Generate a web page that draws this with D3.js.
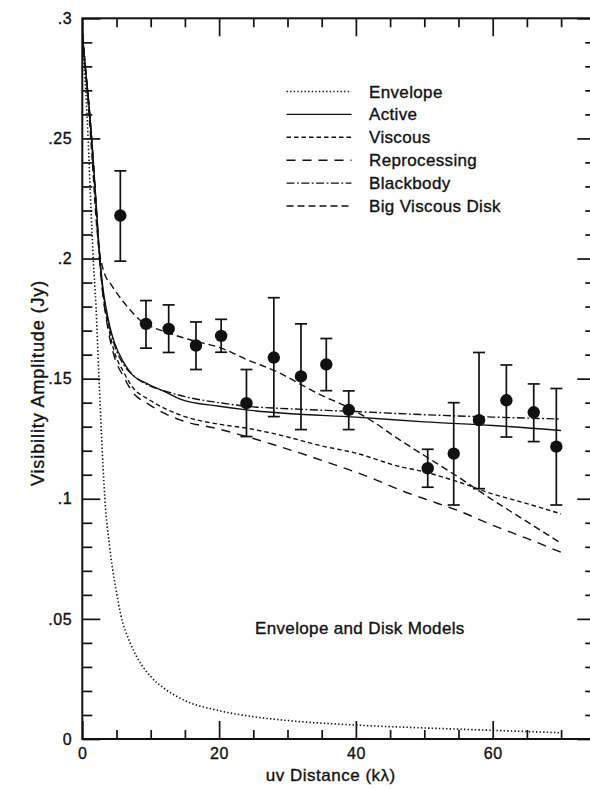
<!DOCTYPE html>
<html>
<head>
<meta charset="utf-8">
<script src="https://cdn.jsdelivr.net/npm/d3@7"></script>
<style>
  html, body { margin: 0; padding: 0; background: #fff; }
  svg { display: block; }
  text { font-family: "Liberation Sans", Arial, Helvetica, sans-serif; fill: #111; stroke: #111; stroke-width: 0.35px; }
</style>
</head>
<body>
<svg id="chart" width="590" height="790"></svg>
<script>
// ---------------- data ----------------
const xTicksMajor = [0, 20, 40, 60];
const xTicksMinor = [5, 10, 15, 25, 30, 35, 45, 50, 55, 65, 70, 75];
const yTicksMajor = [0, 0.05, 0.1, 0.15, 0.2, 0.25, 0.3];
const yTicksMinor = [0.01, 0.02, 0.03, 0.04, 0.06, 0.07, 0.08, 0.09, 0.11, 0.12, 0.13, 0.14,
                     0.16, 0.17, 0.18, 0.19, 0.21, 0.22, 0.23, 0.24, 0.26, 0.27, 0.28, 0.29];

const obsU     = [5.56, 9.31, 12.63, 16.62, 20.3, 24.0, 28.0, 31.97, 35.67, 38.95, 50.5, 54.3, 58.0, 62.0, 66.0, 69.3];
const obsAmp   = [0.2179, 0.1728, 0.1707, 0.1638, 0.1678, 0.1398, 0.1588, 0.1509, 0.1559, 0.1370, 0.1127, 0.1188, 0.1327, 0.1410, 0.1360, 0.1217];
const obsErrHi = [0.2365, 0.1825, 0.1807, 0.1736, 0.1747, 0.1538, 0.1837, 0.1728, 0.1667, 0.1449, 0.1206, 0.1400, 0.1609, 0.1557, 0.1478, 0.1459];
const obsErrLo = [0.1989, 0.1627, 0.1609, 0.1538, 0.1610, 0.1259, 0.1342, 0.1288, 0.1450, 0.1288, 0.1048, 0.0974, 0.1042, 0.1257, 0.1238, 0.0974];

const envelope = [[0,0.292],[0.4,0.275],[0.85,0.25],[1.2,0.225],[1.6,0.2],[2.0,0.18],[2.4,0.153],[2.8,0.127],
  [3.3,0.1],[4,0.08],[5,0.061],[5.6,0.052],[7,0.04],[8,0.034],[10,0.026],[12,0.021],[15,0.016],[20,0.0118],
  [25,0.0093],[30,0.0077],[40,0.0058],[50,0.0046],[60,0.0036],[70,0.0026]];
const active = [[0,0.294],[0.5,0.278],[1,0.263],[1.5,0.245],[2,0.224],[2.5,0.203],[3,0.188],[3.5,0.179],[4,0.172],
  [4.7,0.165],[6,0.157],[7.2,0.152],[9.4,0.148],[12.5,0.144],[14.3,0.1415],[20,0.1385],[24,0.137],[30,0.1355],
  [40,0.134],[50,0.132],[60,0.1305],[70,0.1284]];
const viscous = [[0,0.294],[0.5,0.278],[1,0.263],[1.5,0.244],[2,0.222],[2.5,0.201],[3,0.186],[3.5,0.176],[4,0.169],
  [4.7,0.161],[6,0.153],[7.2,0.147],[9.9,0.141],[14.3,0.1349],[20,0.131],[24,0.1294],[28.9,0.1265],[35,0.122],
  [40,0.119],[46.4,0.1134],[49.4,0.1116],[55,0.107],[60,0.102],[65,0.098],[70,0.0937]];
const reprocessing = [[0,0.294],[0.5,0.278],[1,0.263],[1.5,0.244],[2,0.222],[2.5,0.2],[3,0.185],[3.5,0.175],[4,0.167],
  [4.7,0.159],[6,0.151],[7.2,0.145],[9.9,0.139],[14.3,0.1328],[20,0.129],[24,0.1259],[28.9,0.1217],[35,0.116],
  [43,0.1078],[46.4,0.1037],[50,0.1],[55,0.095],[60,0.089],[65,0.0835],[70,0.0777]];
const blackbody = [[0,0.294],[0.5,0.278],[1,0.263],[1.5,0.245],[2,0.223],[2.5,0.202],[3,0.187],[3.5,0.178],[4,0.171],
  [4.7,0.164],[6,0.156],[7.2,0.152],[9.9,0.147],[12.5,0.1445],[15,0.1425],[20,0.14],[24,0.1385],[30,0.1375],
  [40,0.1363],[50,0.135],[60,0.134],[70,0.1332]];
const bigViscous = [[0,0.294],[0.5,0.277],[1,0.259],[1.5,0.239],[2,0.217],[2.5,0.203],[3,0.196],[3.5,0.192],[4,0.19],
  [4.7,0.187],[6,0.182],[7,0.1786],[8.6,0.174],[9.3,0.1728],[12.6,0.169],[16,0.166],[20.3,0.1627],[24,0.158],
  [28.9,0.1523],[32,0.1475],[35,0.143],[38.2,0.139],[42,0.133],[46.4,0.1245],[50,0.118],[55,0.109],[60,0.0995],
  [65,0.0905],[70,0.0815]];

const seriesNames = ["Envelope", "Active", "Viscous", "Reprocessing", "Blackbody", "Big Viscous Disk"];
const seriesData = [envelope, active, viscous, reprocessing, blackbody, bigViscous];

const xTitle = "uv Distance (k\u03bb)";
const yTitle = "Visibility Amplitude (Jy)";
const annotation = "Envelope and Disk Models";

// ---------------- styles ----------------
const dashes = {
  "Envelope": "1.4,2.2",
  "Active": null,
  "Viscous": "4.5,3",
  "Reprocessing": "9,7",
  "Blackbody": "8,2.5,1.8,2.5",
  "Big Viscous Disk": "7,4"
};

// ---------------- layout ----------------
const svg = d3.select("#chart");
const x = d3.scaleLinear().domain([0, 75]).range([82.3, 595.3]);
const y = d3.scaleLinear().domain([0, 0.3]).range([739, 18.3]);
const ink = "#111";

const fmtY = d => d === 0 ? "0" : d3.format(".2~f")(d).replace(/^0/, "");

// frame
svg.append("rect")
  .attr("x", x(0)).attr("y", y(0.3))
  .attr("width", x(75) - x(0)).attr("height", y(0) - y(0.3))
  .attr("fill", "none").attr("stroke", ink).attr("stroke-width", 2);

function styleAxis(g, labels) {
  g.select(".domain").remove();
  g.selectAll(".tick line").attr("stroke", ink).attr("stroke-width", 1.7);
  if (!labels) g.selectAll(".tick text").remove();
  else g.selectAll(".tick text")
        .attr("fill", ink)
        .style("font-family", '"Liberation Sans", Arial, sans-serif')
        .style("font-size", "16px")
        .style("letter-spacing", "0.6px");
}

// bottom
svg.append("g").attr("transform", `translate(0,${y(0)})`)
  .call(d3.axisBottom(x).tickValues(xTicksMajor).tickSize(-18).tickSizeOuter(0).tickPadding(9).tickFormat(d3.format("d")))
  .call(g => styleAxis(g, true));
svg.append("g").attr("transform", `translate(0,${y(0)})`)
  .call(d3.axisBottom(x).tickValues(xTicksMinor).tickSize(-9).tickSizeOuter(0))
  .call(g => styleAxis(g, false));
// top
svg.append("g").attr("transform", `translate(0,${y(0.3)})`)
  .call(d3.axisTop(x).tickValues(xTicksMajor).tickSize(-18).tickSizeOuter(0))
  .call(g => styleAxis(g, false));
svg.append("g").attr("transform", `translate(0,${y(0.3)})`)
  .call(d3.axisTop(x).tickValues(xTicksMinor).tickSize(-9).tickSizeOuter(0))
  .call(g => styleAxis(g, false));
// left
svg.append("g").attr("transform", `translate(${x(0)},0)`)
  .call(d3.axisLeft(y).tickValues(yTicksMajor).tickSize(-18).tickSizeOuter(0).tickPadding(10).tickFormat(fmtY))
  .call(g => styleAxis(g, true));
svg.append("g").attr("transform", `translate(${x(0)},0)`)
  .call(d3.axisLeft(y).tickValues(yTicksMinor).tickSize(-10).tickSizeOuter(0))
  .call(g => styleAxis(g, false));
// right
svg.append("g").attr("transform", `translate(${x(75)},0)`)
  .call(d3.axisRight(y).tickValues(yTicksMajor).tickSize(-18).tickSizeOuter(0))
  .call(g => styleAxis(g, false));
svg.append("g").attr("transform", `translate(${x(75)},0)`)
  .call(d3.axisRight(y).tickValues(yTicksMinor).tickSize(-10).tickSizeOuter(0))
  .call(g => styleAxis(g, false));

// axis titles
svg.append("text")
  .attr("x", (x(0) + x(75)) / 2 - 8).attr("y", 781)
  .attr("text-anchor", "middle")
  .style("font-size", "17px").style("letter-spacing", "0.5px")
  .text(xTitle);
svg.append("text")
  .attr("transform", `translate(44,${383}) rotate(-90)`)
  .attr("text-anchor", "middle")
  .style("font-size", "18px").style("letter-spacing", "0.9px")
  .text(yTitle);

// model curves
const line = d3.line().x(d => x(d[0])).y(d => y(d[1])).curve(d3.curveMonotoneX);
const clipId = "plotclip";
svg.append("clipPath").attr("id", clipId).append("rect")
  .attr("x", x(0)).attr("y", y(0.3)).attr("width", x(75) - x(0)).attr("height", y(0) - y(0.3));
const curves = svg.append("g").attr("clip-path", `url(#${clipId})`);
seriesData.forEach((data, i) => {
  const name = seriesNames[i];
  curves.append("path")
    .datum(data)
    .attr("d", line)
    .attr("fill", "none")
    .attr("stroke", ink)
    .attr("stroke-width", name === "Envelope" ? 1.6 : 1.4)
    .attr("stroke-dasharray", dashes[name]);
});

// error bars & points
const pts = svg.append("g");
obsU.forEach((u, i) => {
  const cx = x(u);
  pts.append("line").attr("x1", cx).attr("x2", cx).attr("y1", y(obsErrLo[i])).attr("y2", y(obsErrHi[i]))
    .attr("stroke", ink).attr("stroke-width", 1.7);
  [obsErrLo[i], obsErrHi[i]].forEach(v => {
    pts.append("line").attr("x1", cx - 6).attr("x2", cx + 6).attr("y1", y(v)).attr("y2", y(v))
      .attr("stroke", ink).attr("stroke-width", 1.7);
  });
  pts.append("circle").attr("cx", cx).attr("cy", y(obsAmp[i])).attr("r", 6.2).attr("fill", ink);
});

// legend
const legend = svg.append("g");
seriesNames.forEach((name, i) => {
  const ly = 91.5 + i * 22.9;
  legend.append("line")
    .attr("x1", 286.5).attr("x2", 351.5).attr("y1", ly).attr("y2", ly)
    .attr("stroke", ink).attr("stroke-width", name === "Envelope" ? 1.6 : 1.4)
    .attr("stroke-dasharray", dashes[name]);
  legend.append("text")
    .attr("x", 369).attr("y", ly + 6)
    .style("font-size", "17px").style("letter-spacing", "0.35px")
    .text(name);
});

// annotation
svg.append("text")
  .attr("x", 255).attr("y", 634)
  .style("font-size", "17px").style("letter-spacing", "0.35px")
  .text(annotation);
</script>
</body>
</html>
